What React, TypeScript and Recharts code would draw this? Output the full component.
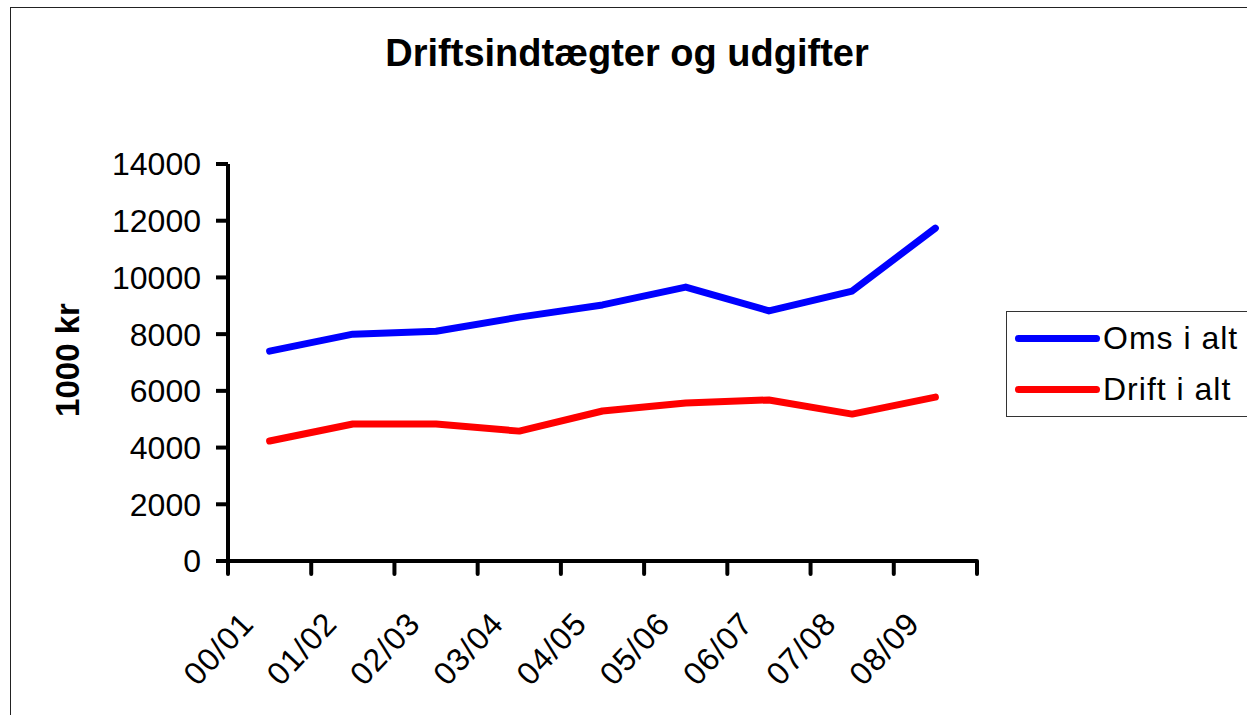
import { LineChart, Line, XAxis, YAxis } from "recharts";

const categories = ["00/01", "01/02", "02/03", "03/04", "04/05", "05/06", "06/07", "07/08", "08/09"];
const omsIAlt = [7400, 8000, 8100, 8600, 9030, 9660, 8820, 9520, 11740];
const driftIAlt = [4230, 4830, 4830, 4580, 5290, 5570, 5680, 5180, 5780];
const yTicks = [0, 2000, 4000, 6000, 8000, 10000, 12000, 14000];

const series = [
  { key: "oms", name: "Oms i alt", color: "#0000ff" },
  { key: "drift", name: "Drift i alt", color: "#ff0000" },
];

const data = categories.map((c, i) => ({
  cat: c,
  pos: i + 0.5,
  oms: omsIAlt[i],
  drift: driftIAlt[i],
}));

// boundaries get a tick mark, centres get the label (Excel style)
const xTicks = Array.from({ length: categories.length * 2 + 1 }, (_, i) => i / 2);

const FONT = "'Liberation Sans', Arial, sans-serif";

const XTick = ({ x, y, payload }: any) => {
  const v = Number(payload.value);
  if (Number.isInteger(v)) {
    return (
      <line x1={x} y1={y} x2={x} y2={y + 13} stroke="#000" strokeWidth={4} strokeLinecap="round" />
    );
  }
  const ax = x - 14;
  const ay = y + 64;
  return (
    <text
      x={ax}
      y={ay}
      textAnchor="end"
      transform={`rotate(-47 ${ax} ${ay})`}
      fontFamily={FONT}
      fontSize={32}
      letterSpacing={1}
      fill="#000"
    >
      {categories[Math.floor(v)]}
    </text>
  );
};

export default function App() {
  return (
    <div
      style={{
        position: "absolute",
        left: 0,
        top: 0,
        width: 1247,
        height: 715,
        overflow: "hidden",
        background: "#fff",
        fontFamily: FONT,
      }}
    >
      <div
        style={{
          position: "absolute",
          left: 10,
          top: 7,
          width: 1260,
          height: 740,
          border: "1.5px solid #222",
        }}
      />
      <div
        style={{
          position: "absolute",
          left: 0,
          top: 30,
          width: 1254,
          textAlign: "center",
          fontWeight: "bold",
          fontSize: 38,
          lineHeight: "46px",
          color: "#000",
        }}
      >
        Driftsindtægter og udgifter
      </div>
      <div
        style={{
          position: "absolute",
          left: 68,
          top: 360,
          transform: "translate(-50%, -50%) rotate(-90deg)",
          fontWeight: "bold",
          fontSize: 33,
          whiteSpace: "nowrap",
          color: "#000",
        }}
      >
        1000 kr
      </div>

      <div style={{ position: "absolute", left: 0, top: 0 }}>
        <LineChart
          width={1247}
          height={715}
          data={data}
          margin={{ top: 164, right: 270, bottom: 34, left: 128 }}
        >
          <XAxis
            dataKey="pos"
            type="number"
            domain={[0, categories.length]}
            ticks={xTicks}
            interval={0}
            allowDecimals
            height={120}
            tickSize={0}
            tickMargin={0}
            tickLine={false}
            axisLine={{ stroke: "#000", strokeWidth: 4 }}
            tick={<XTick />}
          />
          <YAxis
            domain={[0, 14000]}
            ticks={yTicks}
            interval={0}
            width={100}
            tickSize={12}
            tickMargin={15}
            axisLine={{ stroke: "#000", strokeWidth: 4 }}
            tickLine={{ stroke: "#000", strokeWidth: 4 }}
            tick={{ fill: "#000", fontSize: 32, fontFamily: FONT }}
          />
          {series.map((s) => (
            <Line
              key={s.key}
              type="linear"
              dataKey={s.key}
              name={s.name}
              stroke={s.color}
              strokeWidth={7}
              strokeLinecap="round"
              strokeLinejoin="round"
              dot={false}
              activeDot={false}
              isAnimationActive={false}
            />
          ))}
        </LineChart>
      </div>

      <div
        style={{
          position: "absolute",
          left: 1006,
          top: 311,
          width: 260,
          height: 106,
          border: "1.5px solid #333",
          boxSizing: "border-box",
        }}
      >
        {series.map((s, i) => (
          <div
            key={s.key}
            style={{
              position: "absolute",
              left: 8,
              top: 6 + i * 51,
              height: 40,
              display: "flex",
              alignItems: "center",
              whiteSpace: "nowrap",
            }}
          >
            <span
              style={{
                display: "inline-block",
                width: 85,
                height: 7,
                borderRadius: 4,
                background: s.color,
                marginRight: 3,
              }}
            />
            <span style={{ fontSize: 32, letterSpacing: 1, color: "#000" }}>{s.name}</span>
          </div>
        ))}
      </div>
    </div>
  );
}
